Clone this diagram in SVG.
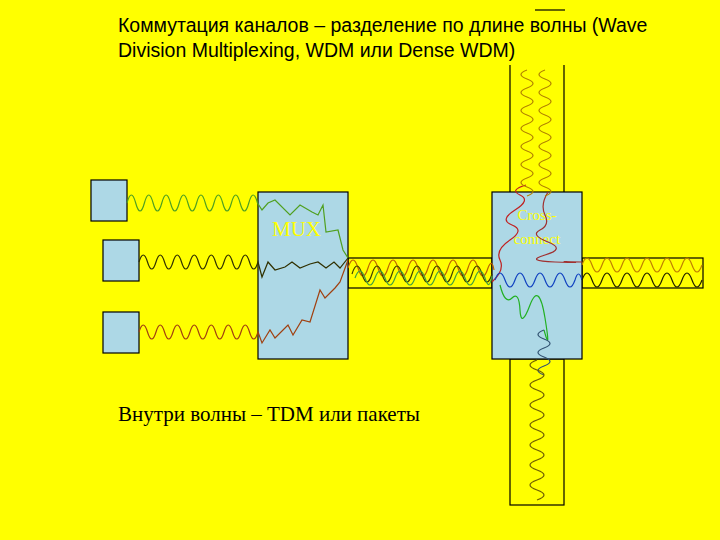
<svg xmlns="http://www.w3.org/2000/svg" width="720" height="540" viewBox="0 0 720 540">
<style>
.box{fill:#add8e6;stroke:#000;stroke-width:1.2}
.fib{fill:#ffff00;stroke:#000;stroke-width:1.2}
.w{fill:none;stroke-width:1.2}
.t{font-family:"Liberation Sans",Arial,sans-serif;font-size:19.5px;fill:#000}
</style>
<rect width="720" height="540" fill="#ffff00"/>
<line x1="535" y1="10" x2="565" y2="10" stroke="#000" stroke-width="1.2"/>
<text class="t" x="118" y="32">Коммутация каналов – разделение по длине волны  (Wave</text>
<text class="t" x="118" y="57">Division Multiplexing, WDM или Dense WDM)</text>
<g id="fibers">
<path d="M510 65V192M564 65V192" stroke="#000" stroke-width="1.2"/>
<rect class="fib" x="348" y="258" width="144" height="30"/>
<rect class="fib" x="582" y="258" width="121" height="30"/>
<rect class="fib" x="510" y="359" width="54" height="146"/>
</g>
<g id="src1"><rect class="box" x="91" y="180" width="36" height="41"/></g>
<g id="src2"><rect class="box" x="103" y="240" width="36" height="41"/></g>
<g id="src3"><rect class="box" x="103" y="312" width="36" height="41"/></g>
<g id="mux"><rect class="box" x="258" y="192" width="90" height="167"/>
<text x="272" y="236" font-family="Liberation Serif,serif" font-size="21" fill="#ffff00">MUX</text></g>
<g id="xc"><rect class="box" x="492" y="192" width="90" height="167"/>
<text x="537" y="220" text-anchor="middle" font-family="Liberation Serif,serif" font-size="15" fill="#ffff00">Cross-</text>
<text x="537" y="244" text-anchor="middle" font-family="Liberation Serif,serif" font-size="15" fill="#ffff00">connect</text></g>
<g id="waves">
<path class="w" stroke="#50a020" d="M127 203 q4.35 -16 8.7 0 q4.35 16 8.7 0 q4.35 -16 8.7 0 q4.35 16 8.7 0 q4.35 -16 8.7 0 q4.35 16 8.7 0 q4.35 -16 8.7 0 q4.35 16 8.7 0 q4.35 -16 8.7 0 q4.35 16 8.7 0 q4.35 -16 8.7 0 q4.35 16 8.7 0 q4.35 -16 8.7 0 q4.35 16 8.7 0 q4.35 -16 8.7 0 L262 210 L268 203 L275 200 L290 215 L300 205 L312 212 L318 215 L323 205 L326 232 L338 230 L343 250 L348 258"/>
<path class="w" stroke="#303000" d="M139 262 q4.25 -14 8.5 0 q4.25 14 8.5 0 q4.25 -14 8.5 0 q4.25 14 8.5 0 q4.25 -14 8.5 0 q4.25 14 8.5 0 q4.25 -14 8.5 0 q4.25 14 8.5 0 q4.25 -14 8.5 0 q4.25 14 8.5 0 q4.25 -14 8.5 0 q4.25 14 8.5 0 q4.25 -14 8.5 0 q4.25 14 8.5 0 L262 277 L268 262 L275 270 L285 267 L292 262 L300 268 L310 264 L318 262 L326 268 L334 262 L340 268 L348 258"/>
<path class="w" stroke="#a04010" d="M139 332 q4.25 -14 8.5 0 q4.25 14 8.5 0 q4.25 -14 8.5 0 q4.25 14 8.5 0 q4.25 -14 8.5 0 q4.25 14 8.5 0 q4.25 -14 8.5 0 q4.25 14 8.5 0 q4.25 -14 8.5 0 q4.25 14 8.5 0 q4.25 -14 8.5 0 q4.25 14 8.5 0 q4.25 -14 8.5 0 q4.25 14 8.5 0 L262 343 L270 330 L275 338 L288 325 L293 335 L302 320 L310 322 L320 290 L325 298 L335 288 L340 282 L348 260"/>
<path class="w" stroke="#c06000" d="M348 268 q5 -16 10 0 q5 16 10 0 q5 -16 10 0 q5 16 10 0 q5 -16 10 0 q5 16 10 0 q5 -16 10 0 q5 16 10 0 q5 -16 10 0 q5 16 10 0 q5 -16 10 0 q5 16 10 0 q5 -16 10 0 q5 16 10 0 q4 -10 6 2"/>
<path class="w" stroke="#404000" d="M352 274 q5 -16 10 0 q5 16 10 0 q5 -16 10 0 q5 16 10 0 q5 -16 10 0 q5 16 10 0 q5 -16 10 0 q5 16 10 0 q5 -16 10 0 q5 16 10 0 q5 -16 10 0 q5 16 10 0 q5 -16 10 0 q5 16 10 0"/>
<path class="w" stroke="#40a040" d="M355 278 q5 -14 10 0 q5 14 10 0 q5 -14 10 0 q5 14 10 0 q5 -14 10 0 q5 14 10 0 q5 -14 10 0 q5 14 10 0 q5 -14 10 0 q5 14 10 0 q5 -14 10 0 q5 14 10 0 q5 -14 10 0 q4 14 7 -2"/>
<path class="w" stroke="#c02020" d="M492 282 Q505 270 500 260 T510 240 T512 225 T515 210 T520 195 T526 185"/>
<path class="w" stroke="#a03030" d="M548 192 Q540 205 545 215 T540 230 T548 242 T545 255 T555 262 T570 262 T582 262"/>
<path class="w" stroke="#1040c0" d="M495 280 q5 -14 10 0 q5 14 10 0 q5 -14 10 0 q5 14 10 0 q5 -14 10 0 q5 14 10 0 q5 -14 10 0 q5 14 10 0 q3.5 -12 7 0"/>
<path class="w" stroke="#22b022" d="M500 285 Q505 305 512 298 T520 310 T530 305 T545 318 T544 330"/>
<path class="w" stroke="#305070" d="M544 330 q-12 4.5 0 9 q12 4.5 0 9 q-12 4.5 0 9 q12 4.5 0 9 q-12 4.5 0 9"/>
<path class="w" stroke="#c08000" d="M582 265 q5 -14 10 0 q5 14 10 0 q5 -14 10 0 q5 14 10 0 q5 -14 10 0 q5 14 10 0 q5 -14 10 0 q5 14 10 0 q5 -14 10 0 q5 14 10 0 q5 -14 10 0 q5 14 10 0"/>
<path class="w" stroke="#202000" d="M582 280 q5 -14 10 0 q5 14 10 0 q5 -14 10 0 q5 14 10 0 q5 -14 10 0 q5 14 10 0 q5 -14 10 0 q5 14 10 0 q5 -14 10 0 q5 14 10 0 q5 -14 10 0 q5 14 10 0"/>
<path class="w" stroke="#b08000" d="M527 70 q-12 4.5 0 9 q12 4.5 0 9 q-12 4.5 0 9 q12 4.5 0 9 q-12 4.5 0 9 q12 4.5 0 9 q-12 4.5 0 9 q12 4.5 0 9 q-12 4.5 0 9 q12 4.5 0 9 q-12 4.5 0 9 q12 4.5 0 9 q-12 4.5 0 9 q12 4.5 0 9"/>
<path class="w" stroke="#b08000" d="M545 70 q-12 4.5 0 9 q12 4.5 0 9 q-12 4.5 0 9 q12 4.5 0 9 q-12 4.5 0 9 q12 4.5 0 9 q-12 4.5 0 9 q12 4.5 0 9 q-12 4.5 0 9 q12 4.5 0 9 q-12 4.5 0 9 q12 4.5 0 9 q-12 4.5 0 9 q12 4.5 0 9"/>
<path class="w" stroke="#706000" d="M537 360 q-14 5 0 10 q14 5 0 10 q-14 5 0 10 q14 5 0 10 q-14 5 0 10 q14 5 0 10 q-14 5 0 10 q14 5 0 10 q-14 5 0 10 q14 5 0 10 q-14 5 0 10 q14 5 0 10 q-14 5 0 10 q14 5 0 10"/>
</g>
<text x="118" y="421" font-family="Liberation Serif,serif" font-size="21" fill="#000">Внутри волны – TDM или пакеты</text>
</svg>
